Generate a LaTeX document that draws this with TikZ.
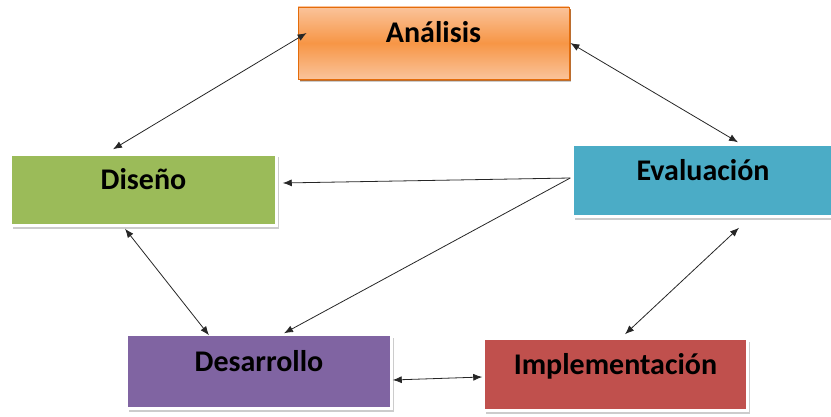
\documentclass[tikz,border=0pt]{standalone}
\usepackage{fontspec}
\setmainfont{Carlito}
\usetikzlibrary{arrows.meta, calc, shadows}
\definecolor{anaorange}{HTML}{F79646}
\definecolor{analight}{HTML}{FAC39A}
\definecolor{anadark}{HTML}{E46C0A}
\definecolor{disgreen}{HTML}{9BBB59}
\definecolor{evablue}{HTML}{4BACC6}
\definecolor{despurple}{HTML}{8064A2}
\definecolor{impred}{HTML}{C0504D}

\begin{document}
\begin{tikzpicture}[x=1pt, y=1pt, >={Latex[length=9pt,width=7pt]}]
    \tikzstyle{box}=[rectangle, draw=white, line width=2.5pt, inner sep=0pt, text height=20pt, text depth=20pt, font=\bfseries\fontsize{30}{36}\selectfont, drop shadow={shadow xshift=2pt, shadow yshift=-3pt, fill=black!40, opacity=.5}];
    \tikzstyle{orangebox}=[box, draw=anadark, line width=0.8pt, top color=analight, bottom color=analight, middle color=anaorange, drop shadow={shadow xshift=2pt, shadow yshift=-2.5pt, fill=anadark!80!black, opacity=.8}];
    \tikzstyle{link}=[black!85, line width=0.8pt];
    \useasboundingbox (0,0) rectangle (831,416);

    \node[orangebox, minimum width=271pt, minimum height=72pt] (analisis) at (433.5,373) {Análisis};
    \node[box, fill=disgreen, minimum width=266pt, minimum height=71pt] (diseno) at (143.5,226) {Diseño};
    \node[box, fill=evablue, minimum width=261pt, minimum height=72pt] (evaluacion) at (703,235.5) {Evaluación};
    \node[box, fill=despurple, minimum width=265pt, minimum height=74pt] (desarrollo) at (259,44.5) {Desarrollo};
    \node[box, fill=impred, minimum width=264pt, minimum height=72pt] (implementacion) at (615.5,41.5) {Implementación};

    \path[link, <->]
    ($(analisis.west)+(9,10)$) edge ($(diseno.north)+(-30.5,4)$)
    ($(analisis.east)+(1,0)$) edge ($(evaluacion.north)+(35,1)$)
    ($(diseno.south)+(-18.5,-2)$) edge ($(desarrollo.north)+(-50,-2)$)
    ($(evaluacion.south)+(36,-10)$) edge ($(implementacion.north)+(9.5,3)$)
    ($(desarrollo.east)+(0,-8.5)$) edge ($(implementacion.west)+(0,-2.5)$);

    \path[link, ->]
    ($(evaluacion.west)+(-1,2.5)$) edge ($(diseno.east)+(5,7)$)
    ($(evaluacion.west)+(-1,2.5)$) edge ($(desarrollo.north)+(25,0)$);
\end{tikzpicture}
\end{document}
